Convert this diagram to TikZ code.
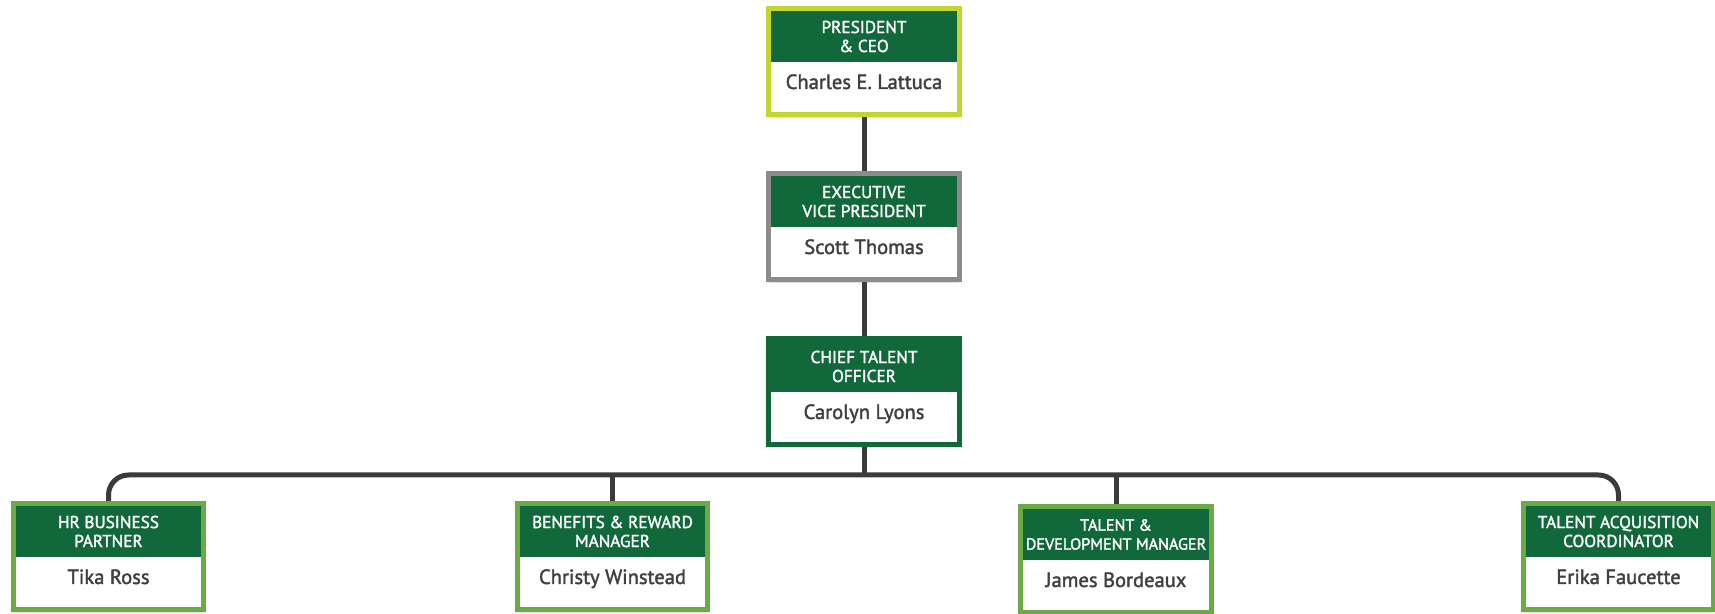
\documentclass[tikz,border=0pt]{standalone}
\usepackage{fontspec}
\setmainfont{PT Sans}[FakeBold=1.8]
\definecolor{chartgreen}{HTML}{11683A}
\definecolor{chartlime}{HTML}{C3D52F}
\definecolor{chartgray}{HTML}{8C8C8C}
\definecolor{chartleaf}{HTML}{6AAB48}
\definecolor{chartink}{HTML}{404040}
\definecolor{chartline}{HTML}{3B3B3B}
\usetikzlibrary{positioning,shadows}
\tikzset{
    card/.style={
        fill=white,
        line width=0.1cm,
        minimum width=3.82cm,
        minimum height=2.12cm,
        inner sep=0pt,
        drop shadow={shadow xshift=0cm,shadow yshift=-0.08cm,opacity=0.22}
    },
    cardtitle/.style={
        fill=chartgreen,
        text=white,
        minimum width=3.72cm,
        minimum height=1.02cm,
        inner sep=0pt,
        outer sep=0pt,
        align=center,
        font=\fontsize{9.8}{10.8}\selectfont
    },
    cardname/.style={
        text=chartink,
        inner sep=0pt,
        anchor=base,
        font=\fontsize{11.7}{14}\selectfont
    },
    orgline/.style={
        draw=chartline,
        line width=0.1cm
    }
}

\begin{document}
\begin{tikzpicture}[x=0.02cm,y=-0.02cm]
    \useasboundingbox (0,0) rectangle (1715,614);

    \node[card, draw=chartlime] (ceoBox) at (864,61.5) {};
    \node[cardtitle, below=0.1cm of ceoBox.north] (ceoTitle) {PRESIDENT\\\& CEO};
    \node[cardname] (ceoName) at ([yshift=-0.54cm]ceoTitle.south) {Charles E. Lattuca};

    \node[card, draw=chartgray] (evpBox) at (864,226.5) {};
    \node[cardtitle, below=0.1cm of evpBox.north] (evpTitle) {EXECUTIVE\\VICE PRESIDENT};
    \node[cardname] (evpName) at ([yshift=-0.54cm]evpTitle.south) {Scott Thomas};

    \node[card, draw=chartgreen] (ctoBox) at (864,391.5) {};
    \node[cardtitle, below=0.1cm of ctoBox.north] (ctoTitle) {CHIEF TALENT\\OFFICER};
    \node[cardname] (ctoName) at ([yshift=-0.54cm]ctoTitle.south) {Carolyn Lyons};

    \node[card, draw=chartleaf] (hrBox) at (108.5,556.5) {};
    \node[cardtitle, below=0.1cm of hrBox.north] (hrTitle) {HR BUSINESS\\PARTNER};
    \node[cardname] (hrName) at ([yshift=-0.54cm]hrTitle.south) {Tika Ross};

    \node[card, draw=chartleaf] (benefitsBox) at (612.5,556.5) {};
    \node[cardtitle, below=0.1cm of benefitsBox.north] (benefitsTitle) {BENEFITS \& REWARD\\MANAGER};
    \node[cardname] (benefitsName) at ([yshift=-0.54cm]benefitsTitle.south) {Christy Winstead};

    \node[card, draw=chartleaf] (talentBox) at (1116,559.5) {};
    \node[cardtitle, below=0.1cm of talentBox.north, font=\fontsize{9.2}{10.8}\selectfont] (talentTitle) {TALENT \&\\DEVELOPMENT MANAGER};
    \node[cardname] (talentName) at ([yshift=-0.54cm]talentTitle.south) {James Bordeaux};

    \node[card, draw=chartleaf] (acquisitionBox) at (1618.5,556.5) {};
    \node[cardtitle, below=0.1cm of acquisitionBox.north] (acquisitionTitle) {TALENT ACQUISITION\\COORDINATOR};
    \node[cardname] (acquisitionName) at ([yshift=-0.54cm]acquisitionTitle.south) {Erika Faucette};

    \coordinate (busMid) at (864,475);

    \draw[orgline] (ceoBox) -- (evpBox);
    \draw[orgline] (evpBox) -- (ctoBox);
    \draw[orgline] (ctoBox) -- (busMid);
    \draw[orgline, rounded corners=0.4cm]
        (hrBox.north) |- (busMid) -| (acquisitionBox.north);
    \draw[orgline] (benefitsBox.north) -- (benefitsBox.north |- busMid);
    \draw[orgline] (talentBox.north) -- (talentBox.north |- busMid);
\end{tikzpicture}
\end{document}
